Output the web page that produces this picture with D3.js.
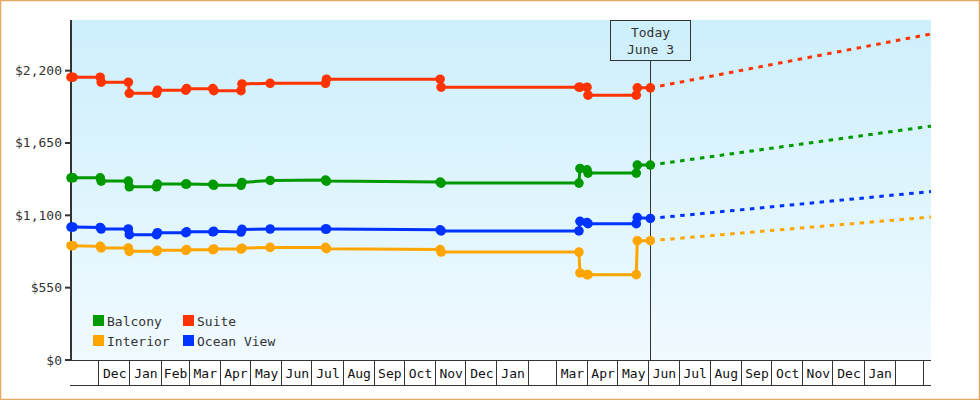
<!DOCTYPE html>
<html>
<head>
<meta charset="utf-8">
<script src="https://cdn.jsdelivr.net/npm/d3@7"></script>
<style>
  html, body { margin: 0; padding: 0; background: #fff; }
  svg { display: block; }
  text { font-family: "DejaVu Sans Mono", "Liberation Mono", monospace; font-size: 13px; }
</style>
</head>
<body>
<svg id="chart" width="980" height="400"></svg>
<script>
// ---------------- data ----------------
const obsDates = [
  "2016-11-04","2016-11-06","2016-12-03","2016-12-04","2016-12-31","2017-01-01",
  "2017-01-28","2017-01-29","2017-02-26","2017-02-27","2017-03-25","2017-03-26",
  "2017-04-22","2017-04-23","2017-05-21","2017-07-15","2017-07-16","2017-11-06",
  "2017-11-07","2018-03-24","2018-03-25","2018-04-01","2018-04-02","2018-05-20",
  "2018-05-21","2018-06-03"
];
const suite     = [2150,2150,2150,2112,2112,2028,2028,2051,2051,2063,2063,2048,2048,2099,2104,2104,2135,2135,2074,2074,2074,2074,2013,2013,2069,2069];
const balcony   = [1385,1385,1385,1360,1360,1317,1317,1338,1338,1338,1335,1328,1328,1350,1365,1368,1360,1353,1345,1345,1456,1446,1421,1421,1482,1482];
const oceanView = [1011,1011,1008,996,996,953,953,968,968,975,975,978,973,993,996,996,996,990,981,981,1054,1046,1036,1036,1083,1076];
const interior  = [869,869,864,852,852,826,826,834,834,839,839,844,844,850,856,856,846,840,821,821,662,649,649,649,907,907];

const projDates     = ["2018-06-03","2019-03-09"];
const suiteProj     = [2069, 2479];
const balconyProj   = [1482, 1778];
const oceanViewProj = [1076, 1281];
const interiorProj  = [907, 1087];

const seriesNames  = ["Balcony","Suite","Interior","Ocean View"];
const seriesColors = ["#009900","#ff3300","#ffa500","#0033ff"];

const domainStart = "2016-11-04";
const domainEnd   = "2019-03-09";
const todayDate   = "2018-06-03";
const todayLabel  = ["Today","June 3"];

const yTicks = [0, 550, 1100, 1650, 2200];
const yMax = 2585;
const monthLabels = ["","Dec","Jan","Feb","Mar","Apr","May","Jun","Jul","Aug","Sep","Oct","Nov","Dec",
                     "Jan","","Mar","Apr","May","Jun","Jul","Aug","Sep","Oct","Nov","Dec","Jan","",""];

// ---------------- chart ----------------
const parse = d3.utcParse("%Y-%m-%d");
const svg = d3.select("#chart");
const W = 980, H = 400;
const plot = {left: 71, right: 931, top: 20, bottom: 360};

const x = d3.scaleUtc().domain([parse(domainStart), parse(domainEnd)]).range([plot.left, plot.right]);
const y = d3.scaleLinear().domain([0, yMax]).range([plot.bottom, plot.top]);

// outer border
svg.append("rect").attr("x", 0.5).attr("y", 0.5).attr("width", W - 1).attr("height", H - 1)
  .attr("fill", "#fff").attr("stroke", "#e9a862").attr("stroke-width", 1.5);

// background gradient
const defs = svg.append("defs");
const grad = defs.append("linearGradient").attr("id", "bg").attr("x1", 0).attr("y1", 0).attr("x2", 0).attr("y2", 1);
grad.append("stop").attr("offset", "0%").attr("stop-color", "#cdeffc");
grad.append("stop").attr("offset", "100%").attr("stop-color", "#f0faff");
svg.append("rect").attr("x", plot.left).attr("y", plot.top)
  .attr("width", plot.right - plot.left).attr("height", plot.bottom - plot.top)
  .attr("fill", "url(#bg)");

// x axis: month cells
const monthStarts = d3.utcMonth.range(x.domain()[0], x.domain()[1]);
const bounds = [x.domain()[0], ...monthStarts, x.domain()[1]];
const cells = d3.range(bounds.length - 1).map(i => ({a: bounds[i], b: bounds[i+1], label: monthLabels[i] || ""}));
const xAxis = svg.append("g").attr("shape-rendering", "crispEdges");
xAxis.append("line").attr("x1", plot.left - 1).attr("x2", plot.right).attr("y1", plot.bottom + 0.5).attr("y2", plot.bottom + 0.5)
  .attr("stroke", "#333");
xAxis.append("line").attr("x1", plot.left - 1).attr("x2", plot.right).attr("y1", 385.5).attr("y2", 385.5)
  .attr("stroke", "#333");
xAxis.selectAll("line.div").data(monthStarts).join("line").attr("class", "div")
  .attr("x1", d => Math.round(x(d)) + 0.5).attr("x2", d => Math.round(x(d)) + 0.5)
  .attr("y1", plot.bottom).attr("y2", 385.5).attr("stroke", "#333");
xAxis.selectAll("text").data(cells).join("text")
  .attr("x", d => (x(d.a) + x(d.b)) / 2 + 1).attr("y", 377.5)
  .attr("text-anchor", "middle").attr("fill", "#111").text(d => d.label);

// y axis
const yAxis = svg.append("g");
yAxis.append("line").attr("x1", plot.left).attr("x2", plot.left).attr("y1", plot.top).attr("y2", plot.bottom + 1)
  .attr("stroke", "#333").attr("stroke-width", 2);
yAxis.selectAll("line.tick").data(yTicks).join("line").attr("class", "tick")
  .attr("x1", 65).attr("x2", plot.left).attr("y1", d => y(d)).attr("y2", d => y(d))
  .attr("stroke", "#333").attr("stroke-width", 2);
const fmt = d3.format("$,");
yAxis.selectAll("text").data(yTicks).join("text")
  .attr("x", 62).attr("y", d => y(d) + 4.5).attr("text-anchor", "end").attr("fill", "#333")
  .text(d => fmt(d));

// today marker
const tx = Math.round(x(parse(todayDate))) + 0.5;
svg.append("line").attr("x1", tx).attr("x2", tx).attr("y1", 60.5).attr("y2", plot.bottom)
  .attr("stroke", "#333").attr("stroke-width", 1);
svg.append("rect").attr("x", 610.5).attr("y", 20.5).attr("width", 80).attr("height", 40)
  .attr("fill", "none").attr("stroke", "#333").attr("stroke-width", 1);
svg.append("text").attr("x", tx).attr("y", 36.5).attr("text-anchor", "middle").attr("fill", "#333").text(todayLabel[0]);
svg.append("text").attr("x", tx).attr("y", 54).attr("text-anchor", "middle").attr("fill", "#333").text(todayLabel[1]);

// series
const seriesVals = [balcony, suite, interior, oceanView];
const projVals = [balconyProj, suiteProj, interiorProj, oceanViewProj];
const line = d3.line().x(d => x(d[0])).y(d => y(d[1]));
const drawOrder = [1, 0, 3, 2];
drawOrder.forEach(i => {
  const pts = obsDates.map((d, k) => [parse(d), seriesVals[i][k]]);
  const proj = projDates.map((d, k) => [parse(d), projVals[i][k]]);
  const g = svg.append("g");
  g.append("path").attr("d", line(proj)).attr("fill", "none").attr("stroke", seriesColors[i])
    .attr("stroke-width", 3).attr("stroke-dasharray", "4.5,5.5");
  g.append("path").attr("d", line(pts)).attr("fill", "none").attr("stroke", seriesColors[i])
    .attr("stroke-width", 3).attr("stroke-linejoin", "miter");
  g.selectAll("path.m").data(pts).join("path").attr("class", "m")
    .attr("transform", d => `translate(${x(d[0])},${y(d[1])})`)
    .attr("d", d3.symbol().type(d3.symbolCircle).size(72)())
    .attr("fill", seriesColors[i]);
});

// legend
const legendPos = [[93, 315], [183, 315], [93, 335], [183, 335]];
const legend = svg.append("g");
seriesNames.forEach((name, i) => {
  legend.append("rect").attr("x", legendPos[i][0]).attr("y", legendPos[i][1])
    .attr("width", 11).attr("height", 11).attr("fill", seriesColors[i]);
  legend.append("text").attr("x", legendPos[i][0] + 14).attr("y", legendPos[i][1] + 10.5)
    .attr("fill", "#333").text(name);
});
</script>
</body>
</html>
